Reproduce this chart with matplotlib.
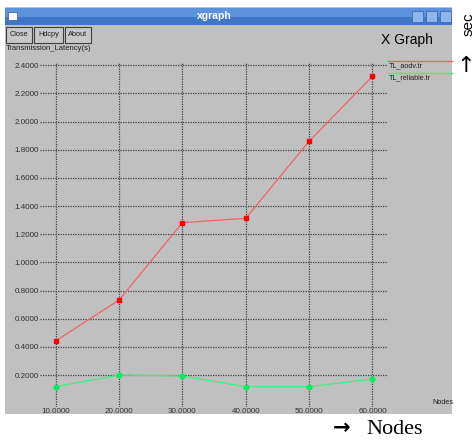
import matplotlib
matplotlib.use("Agg")
import matplotlib.pyplot as plt
from matplotlib.patches import Rectangle
from matplotlib.lines import Line2D

# data
nodes = [10, 20, 30, 40, 50, 60]
tl_aodv = [0.442, 0.733, 1.282, 1.313, 1.860, 2.322]
tl_reliable = [0.117, 0.200, 0.193, 0.117, 0.117, 0.172]
series_names = ["TL_aodv.tr", "TL_reliable.tr"]
x_ticks = [10, 20, 30, 40, 50, 60]
y_ticks = [0.2, 0.4, 0.6, 0.8, 1.0, 1.2, 1.4, 1.6, 1.8, 2.0, 2.2, 2.4]

W, H = 476, 443
fig = plt.figure(figsize=(W / 100, H / 100), dpi=100, facecolor="white")


def fx(px):
    return px / W


def fy(py):
    return 1 - py / H


def box(x0, y0, x1, y1, **kw):
    # rectangle given in pixel coords (top-left origin)
    r = Rectangle((fx(x0), fy(y1)), fx(x1) - fx(x0), (y1 - y0) / H,
                  transform=fig.transFigure, zorder=-5, **kw)
    fig.patches.append(r)
    return r


# window body + title bar
box(5, 7, 452, 414, facecolor="#c0c0c0", edgecolor="none")
box(5, 8, 452, 17, facecolor="#5b92db", edgecolor="none")
box(5, 17, 452, 25, facecolor="#3f76c6", edgecolor="none")
box(8, 12, 17, 20, facecolor="white", edgecolor="#2a5aa0", linewidth=0.5)
for bx in (412, 426, 440):
    box(bx, 11, bx + 11, 22, facecolor="#8fb6ea", edgecolor="#2f63b0", linewidth=0.5)
fig.text(fx(214), fy(16), "xgraph", color="white", fontsize=7.5, fontweight="bold",
         family="Liberation Sans", ha="center", va="center")

# buttons
for label, x0, x1 in (("Close", 6, 32), ("Hdcpy", 34, 63), ("About", 65, 91)):
    box(x0, 27, x1, 43, facecolor="#c8c8c8", edgecolor="#404040", linewidth=0.8)
    fig.text(fx((x0 + x1) / 2), fy(35), label, fontsize=5.3, family="Liberation Sans",
             ha="center", va="center", color="#202020")

fig.text(fx(6), fy(48.5), "Transmission_Latency(s)", fontsize=5.5,
         family="Liberation Sans", ha="left", va="center", color="#202020")
fig.text(fx(381), fy(40), "X Graph", fontsize=10, family="Liberation Sans",
         ha="left", va="center", color="black")

# plot area
ax = fig.add_axes([fx(40), fy(407), fx(388) - fx(40), (407 - 62) / H])
ax.set_facecolor("none")
for s in ax.spines.values():
    s.set_visible(False)
ax.set_xlim(7.52, 62.45)
ax.set_ylim(-0.027, 2.423)
ax.set_xticks(x_ticks)
ax.set_xticklabels(["%.4f" % v for v in x_ticks])
ax.set_yticks(y_ticks)
ax.set_yticklabels(["%.4f" % v for v in y_ticks])
ax.tick_params(length=0, pad=1, labelsize=5.8, colors="#303030")
for lab in ax.get_xticklabels() + ax.get_yticklabels():
    lab.set_family("Liberation Sans")
ax.grid(True, color="#404040", linestyle=(0, (1, 1)), linewidth=0.9)
ax.set_axisbelow(True)

red = "#f06464"
green = "#3ef084"
ax.plot(nodes, tl_aodv, color=red, linewidth=0.9, marker="s", markersize=3.2,
        markerfacecolor="#ff0000", markeredgecolor="#ff0000", clip_on=False)
ax.plot(nodes, tl_reliable, color=green, linewidth=0.9, marker="o", markersize=3.4,
        markerfacecolor="#00f060", markeredgecolor="#00f060", clip_on=False)

# xgraph style legend: line above the name
for name, col, ly, ty in ((series_names[0], red, 61, 65.5),
                          (series_names[1], green, 73.3, 77.7)):
    fig.add_artist(Line2D([fx(388), fx(452)], [fy(ly), fy(ly)], color=col,
                          linewidth=1.0, transform=fig.transFigure))
    fig.text(fx(389), fy(ty), name, fontsize=5.2, family="Liberation Sans",
             ha="left", va="center", color="#202020")

fig.text(fx(432), fy(402), "Nodes", fontsize=5.2, family="Liberation Sans",
         ha="left", va="center", color="#202020")

# annotations outside the window
fig.text(fx(342), fy(428), "\u2192", fontsize=15, fontweight="bold",
         family="DejaVu Sans", ha="center", va="center")
fig.text(fx(366), fy(429), "Nodes", fontsize=16,
         family="Liberation Serif", ha="left", va="center")
fig.text(fx(469), fy(24), "sec", fontsize=11, rotation=90,
         family="Liberation Sans", ha="center", va="center")
fig.text(fx(466), fy(66), "\u2191", fontsize=16,
         family="DejaVu Sans", ha="center", va="center")

fig.savefig("out.png", dpi=100, facecolor="white")
